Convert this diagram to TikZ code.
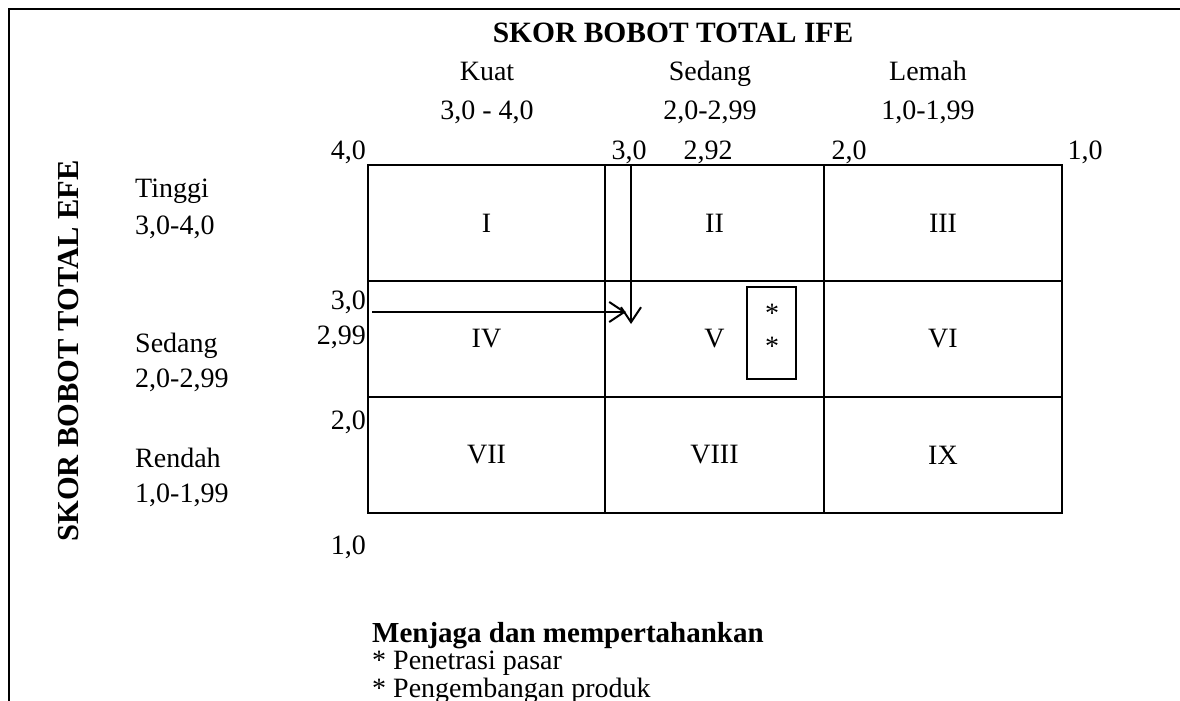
\documentclass[tikz,border=0pt]{standalone}
\usepackage{fontspec}
\setmainfont{Liberation Serif}
\usetikzlibrary{arrows.meta}
\begin{document}
\begin{tikzpicture}[x=1pt,y=-1pt,
  txt/.style={inner sep=0pt, font=\fontsize{28}{32}\selectfont},
  bold/.style={inner sep=0pt, font=\fontsize{29.5}{34}\selectfont\bfseries},
  cell/.style={draw, line width=1.6pt, inner sep=0pt, font=\fontsize{28}{32}\selectfont},
  strat/.style={draw, line width=2pt, inner sep=0pt},
  pointer/.style={line width=2pt, -{Straight Barb[length=15pt,width=20pt,line width=2pt]}}]
\useasboundingbox (0,0) rectangle (1180,701);

% frame (top and left edges only)
\draw[line width=2.2pt] (9,701) -- (9,9) -- (1180,9);

% headings
\node[bold, anchor=base] (ifetitle) at (673,43) {SKOR BOBOT TOTAL IFE};
\node[bold, rotate=90, anchor=center, font=\fontsize{30.5}{34}\selectfont\bfseries] (efetitle) at (69,351) {SKOR BOBOT TOTAL EFE};

% column categories
\node[txt, anchor=base] (kuat) at (487,81) {Kuat};
\node[txt, anchor=base] (kuatr) at (487,119) {3,0 - 4,0};
\node[txt, anchor=base] (sedc) at (710,81) {Sedang};
\node[txt, anchor=base] (sedcr) at (710,119) {2,0-2,99};
\node[txt, anchor=base] (lemah) at (928,81) {Lemah};
\node[txt, anchor=base] (lemahr) at (928,119) {1,0-1,99};

% row categories
\node[txt, anchor=base west] (tinggi) at (135,197) {Tinggi};
\node[txt, anchor=base west] (tinggir) at (135,234) {3,0-4,0};
\node[txt, anchor=base west] (sedr) at (135,352) {Sedang};
\node[txt, anchor=base west] (sedrr) at (135,387) {2,0-2,99};
\node[txt, anchor=base west] (rendah) at (135,467) {Rendah};
\node[txt, anchor=base west] (rendahr) at (135,502) {1,0-1,99};

% horizontal scale
\node[txt, anchor=base east] (h40) at (366,159) {4,0};
\node[txt, anchor=base] (h30) at (629,159) {3,0};
\node[txt, anchor=base] (h292) at (708,159) {2,92};
\node[txt, anchor=base] (h20) at (849,159) {2,0};
\node[txt, anchor=base] (h10) at (1085,159) {1,0};

% vertical scale
\node[txt, anchor=base east] (v30) at (366,309) {3,0};
\node[txt, anchor=base east] (v299) at (366,344) {2,99};
\node[txt, anchor=base east] (v20) at (366,429) {2,0};
\node[txt, anchor=base east] (v10) at (366,554) {1,0};

% the nine cells
\node[cell, minimum width=237pt, minimum height=116pt] (c1) at (486.5,223) {I};
\node[cell, minimum width=219pt, minimum height=116pt] (c2) at (714.5,223) {II};
\node[cell, minimum width=238pt, minimum height=116pt] (c3) at (943,223) {III};
\node[cell, minimum width=237pt, minimum height=116pt] (c4) at (486.5,339) {IV};
\node[cell, minimum width=219pt, minimum height=116pt] (c5) at (714.5,339) {V};
\node[cell, minimum width=238pt, minimum height=116pt] (c6) at (943,339) {VI};
\node[cell, minimum width=237pt, minimum height=116pt] (c7) at (486.5,455) {VII};
\node[cell, minimum width=219pt, minimum height=116pt] (c8) at (714.5,455) {VIII};
\node[cell, minimum width=238pt, minimum height=116pt] (c9) at (943,455) {IX};

% strategy marker inside cell V
\node[strat, minimum width=49pt, minimum height=92pt] (mark) at (771.5,333) {};
\node[txt, anchor=base] (star1) at (772,322) {*};
\node[txt, anchor=base] (star2) at (772,355) {*};

% score pointers
\coordinate (hstart) at (372,312);
\coordinate (hend) at (626,312);
\coordinate (vstart) at (631,165);
\coordinate (vend) at (631,324);
\draw[pointer] (hstart) -- (hend);
\draw[pointer] (vstart) -- (vend);

% strategy text
\node[bold, anchor=base west, font=\fontsize{29}{34}\selectfont\bfseries] (strategy) at (372,642) {Menjaga dan mempertahankan};
\node[txt, anchor=base west] (s1) at (372,669) {* Penetrasi pasar};
\node[txt, anchor=base west] (s2) at (372,697) {* Pengembangan produk};
\end{tikzpicture}
\end{document}
